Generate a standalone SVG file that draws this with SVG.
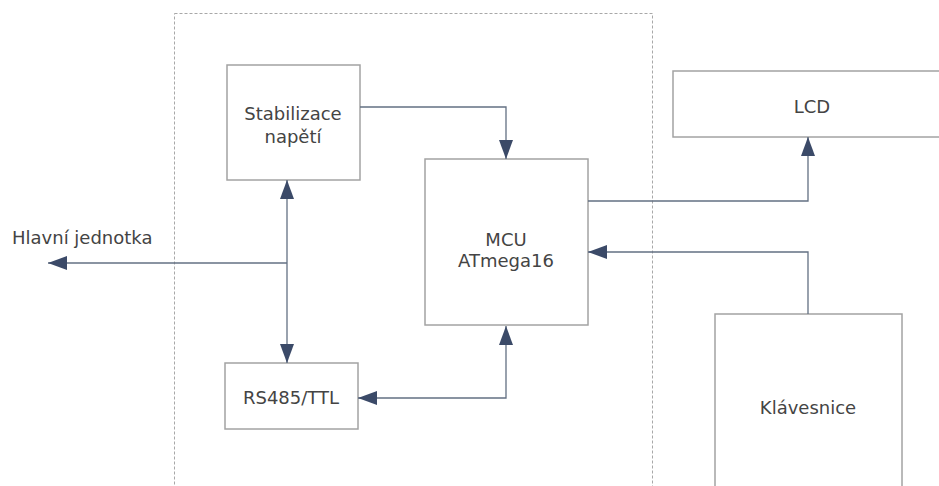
<svg xmlns="http://www.w3.org/2000/svg" width="939" height="486" viewBox="0 0 939 486">
<style>
.box{fill:#fff;stroke:#a3a3a3;stroke-width:1.5}
.frame{fill:none;stroke:#a8a8a8;stroke-width:1;stroke-dasharray:3,2}
.con{fill:none;stroke:#637083;stroke-width:1.3}
text{font-family:"DejaVu Sans","Liberation Sans",sans-serif;font-size:18px;fill:#444;text-anchor:middle}
</style>
<defs>
<marker id="ah" markerUnits="userSpaceOnUse" markerWidth="20" markerHeight="14" viewBox="0 0 20 14" refX="19" refY="7" orient="auto-start-reverse">
<path d="M0,0 L19,7 L0,14 Z" fill="#3b4a68"/>
</marker>
</defs>
<rect class="frame" x="174.5" y="13.5" width="478" height="490"/>
<g id="stabilizace"><rect class="box" x="227" y="65" width="133" height="115"/><text x="293" y="120">Stabilizace</text><text x="293" y="143">napětí</text></g>
<g id="mcu"><rect class="box" x="425" y="159" width="163" height="166"/><text x="506" y="246">MCU</text><text x="506" y="267">ATmega16</text></g>
<g id="rs485"><rect class="box" x="225" y="363" width="133" height="66"/><text x="291" y="404">RS485/TTL</text></g>
<g id="lcd"><rect class="box" x="673" y="71" width="280" height="66"/><text x="812" y="113">LCD</text></g>
<g id="klavesnice"><rect class="box" x="715" y="314" width="187" height="190"/><text x="808" y="414">Klávesnice</text></g>
<g id="hlavni"><text x="12" y="244" style="text-anchor:start">Hlavní jednotka</text></g>
<g id="connectors">
<path class="con" d="M360,107 H506 V159" marker-end="url(#ah)"/>
<path class="con" d="M287,263 H48" marker-end="url(#ah)"/>
<path class="con" d="M287,180 V363" marker-start="url(#ah)" marker-end="url(#ah)"/>
<path class="con" d="M358,398 H506 V326" marker-start="url(#ah)" marker-end="url(#ah)"/>
<path class="con" d="M588,201 H808 V137" marker-end="url(#ah)"/>
<path class="con" d="M808,314 V252 H588" marker-end="url(#ah)"/>
</g>
</svg>
